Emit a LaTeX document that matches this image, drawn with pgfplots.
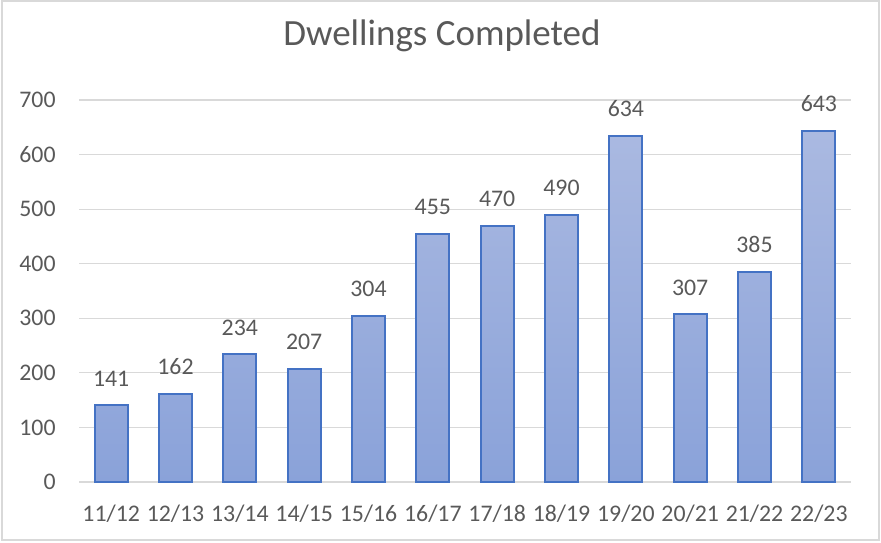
\documentclass[border=0pt]{standalone}
\usepackage{pgfplots}
\pgfplotsset{compat=1.18}
\usepackage{fontspec}
\setmainfont{Carlito}
\definecolor{txt}{HTML}{595959}
\definecolor{gridc}{HTML}{D9D9D9}
\definecolor{barline}{HTML}{4472C4}
\definecolor{bartop}{HTML}{AAB9E1}
\definecolor{barbot}{HTML}{8AA2D9}
\begin{document}
\begin{tikzpicture}
\path[use as bounding box] (0,0) rectangle (440.5pt,271pt);
\draw[gridc, line width=1pt] (1.2pt,0.8pt) rectangle (439.3pt,270.3pt);
\begin{axis}[
  at={(39.5pt,30pt)}, anchor=south west,
  scale only axis, width=386pt, height=191pt,
  xmin=-0.5, xmax=11.5, ymin=0, ymax=700,
  ytick={0,100,...,700},
  xtick={0,...,11},
  xticklabels={11/12,12/13,13/14,14/15,15/16,16/17,17/18,18/19,19/20,20/21,21/22,22/23},
  axis line style={draw=none},
  major tick length=0pt,
  ymajorgrids, xmajorgrids=false, grid style={draw=gridc, line width=0.6pt},
  tick label style={font=\fontsize{11.9}{13}\selectfont, text=txt},
  /pgf/number format/assume math mode=true,
  yticklabel style={inner sep=0pt, anchor=east, xshift=-11.5pt},
  xticklabel style={inner sep=0pt, anchor=north, yshift=-11.5pt},
  title={Dwellings Completed},
  title style={at={(0.5,1)}, anchor=base, inner sep=0pt, yshift=21.5pt, xshift=-11.5pt, font=\fontsize{18.5}{22}\selectfont, text=txt},
  clip=false,
  nodes near coords,
  every node near coord/.append style={inner sep=0pt, anchor=south, yshift=9pt, font=\fontsize{11.9}{13}\selectfont, text=txt},
]
\addplot[ybar, bar width=16.5pt, bar shift=0pt, draw=barline, line width=1pt, top color=bartop, bottom color=barbot]
coordinates {(0,141) (1,162) (2,234) (3,207) (4,304) (5,455) (6,470) (7,490) (8,634) (9,307) (10,385) (11,643)};
\end{axis}
\end{tikzpicture}
\end{document}
